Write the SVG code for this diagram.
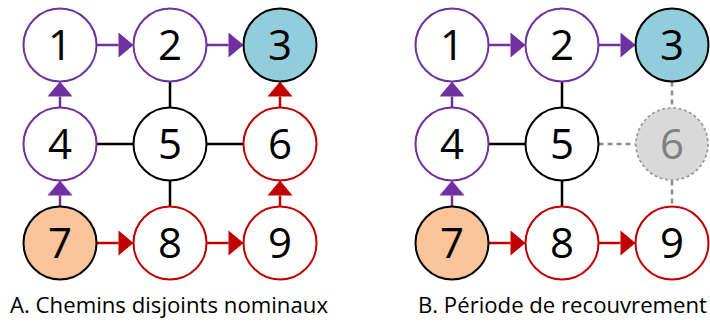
<svg xmlns="http://www.w3.org/2000/svg" width="710" height="323" viewBox="0 0 710 323">
<style>
.n{stroke-width:2;fill:#fff}
.p{stroke:#7030A0}
.r{stroke:#C00000}
.k{stroke:#000}
.t{font-family:"Open Sans",sans-serif;font-size:42px;text-anchor:middle;fill:#000}
.cap{font-family:"Open Sans",sans-serif;font-size:21px;fill:#000}
.c{stroke-width:2.5;fill:none}
.d{stroke:#8C8C8C;stroke-width:2.5;stroke-dasharray:5 4;fill:none}
</style>
<defs>
<marker id="ap" markerUnits="userSpaceOnUse" markerWidth="16" markerHeight="26" viewBox="0 -13 16 26" refX="0" refY="0" orient="auto" overflow="visible"><path d="M0,-12.5 L15,0 L0,12.5 Z" fill="#7030A0"/></marker>
<marker id="ar" markerUnits="userSpaceOnUse" markerWidth="16" markerHeight="26" viewBox="0 -13 16 26" refX="0" refY="0" orient="auto" overflow="visible"><path d="M0,-12.5 L15,0 L0,12.5 Z" fill="#C00000"/></marker>
</defs>
<g id="connectors">
<!-- Panel A -->
<path class="c p" d="M96.5,45 H118.5" marker-end="url(#ap)"/>
<path class="c p" d="M206.5,45 H228.5" marker-end="url(#ap)"/>
<path class="c p" d="M60,107.5 V96.5" marker-end="url(#ap)"/>
<path class="c p" d="M60,206.5 V195.5" marker-end="url(#ap)"/>
<path class="c r" d="M96.5,243 H118.5" marker-end="url(#ar)"/>
<path class="c r" d="M206.5,243 H228.5" marker-end="url(#ar)"/>
<path class="c r" d="M280,206.5 V195.5" marker-end="url(#ar)"/>
<path class="c r" d="M280,107.5 V96.5" marker-end="url(#ar)"/>
<path class="c k" d="M170,81.5 V107.5"/>
<path class="c k" d="M96.5,144 H133.5"/>
<path class="c k" d="M206.5,144 H243.5"/>
<path class="c k" d="M170,180.5 V206.5"/>
<!-- Panel B -->
<path class="c p" d="M488.5,45 H510.5" marker-end="url(#ap)"/>
<path class="c p" d="M598.5,45 H620.5" marker-end="url(#ap)"/>
<path class="c p" d="M452,107.5 V96.5" marker-end="url(#ap)"/>
<path class="c p" d="M452,206.5 V195.5" marker-end="url(#ap)"/>
<path class="c r" d="M488.5,243 H510.5" marker-end="url(#ar)"/>
<path class="c r" d="M598.5,243 H620.5" marker-end="url(#ar)"/>
<path class="c k" d="M562,81.5 V107.5"/>
<path class="c k" d="M488.5,144 H525.5"/>
<path class="c k" d="M562,180.5 V206.5"/>
<path class="d" d="M598.5,144 H635.5"/>
<path class="d" d="M672,81.5 V107.5"/>
<path class="d" d="M672,180.5 V206.5"/>
</g>
<g id="A1"><circle class="n p" cx="60" cy="45" r="36.5"/><text class="t" x="60" y="60">1</text></g>
<g id="A2"><circle class="n p" cx="170" cy="45" r="36.5"/><text class="t" x="170" y="60">2</text></g>
<g id="A3"><circle class="n k" cx="280" cy="45" r="36.5" style="fill:#92CDDC"/><text class="t" x="280" y="60">3</text></g>
<g id="A4"><circle class="n p" cx="60" cy="144" r="36.5"/><text class="t" x="60" y="159">4</text></g>
<g id="A5"><circle class="n k" cx="170" cy="144" r="36.5"/><text class="t" x="170" y="159">5</text></g>
<g id="A6"><circle class="n r" cx="280" cy="144" r="36.5"/><text class="t" x="280" y="159">6</text></g>
<g id="A7"><circle class="n k" cx="60" cy="243" r="36.5" style="fill:#F9C49A"/><text class="t" x="60" y="258">7</text></g>
<g id="A8"><circle class="n r" cx="170" cy="243" r="36.5"/><text class="t" x="170" y="258">8</text></g>
<g id="A9"><circle class="n r" cx="280" cy="243" r="36.5"/><text class="t" x="280" y="258">9</text></g>
<g id="B1"><circle class="n p" cx="452" cy="45" r="36.5"/><text class="t" x="452" y="60">1</text></g>
<g id="B2"><circle class="n p" cx="562" cy="45" r="36.5"/><text class="t" x="562" y="60">2</text></g>
<g id="B3"><circle class="n k" cx="672" cy="45" r="36.5" style="fill:#92CDDC"/><text class="t" x="672" y="60">3</text></g>
<g id="B4"><circle class="n p" cx="452" cy="144" r="36.5"/><text class="t" x="452" y="159">4</text></g>
<g id="B5"><circle class="n k" cx="562" cy="144" r="36.5"/><text class="t" x="562" y="159">5</text></g>
<g id="B6"><circle cx="672" cy="144" r="36" fill="#D9D9D9" stroke="#9A9A9A" stroke-width="1.75" stroke-dasharray="3 2.5"/><text class="t" x="672" y="159" style="fill:#808080">6</text></g>
<g id="B7"><circle class="n k" cx="452" cy="243" r="36.5" style="fill:#F9C49A"/><text class="t" x="452" y="258">7</text></g>
<g id="B8"><circle class="n r" cx="562" cy="243" r="36.5"/><text class="t" x="562" y="258">8</text></g>
<g id="B9"><circle class="n r" cx="672" cy="243" r="36.5"/><text class="t" x="672" y="258">9</text></g>
<text class="cap" x="10" y="313" textLength="318" lengthAdjust="spacingAndGlyphs">A. Chemins disjoints nominaux</text>
<text class="cap" x="418" y="313" textLength="289" lengthAdjust="spacingAndGlyphs">B. Période de recouvrement</text>
</svg>
